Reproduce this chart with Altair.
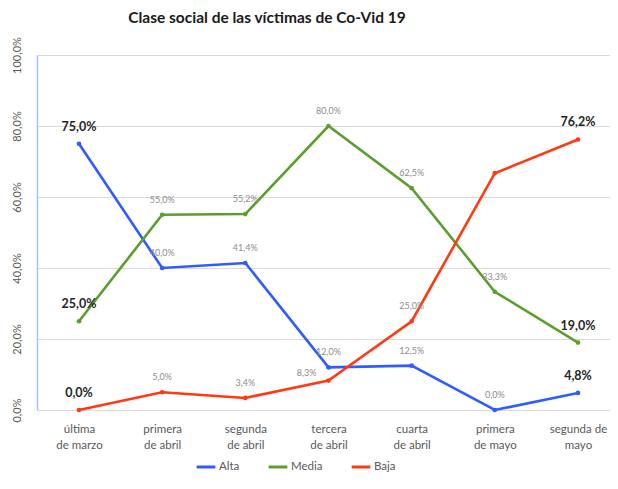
import json
import altair as alt
import pandas as pd

title_text = "Clase social de las víctimas de Co-Vid 19"
categories = ["última|de marzo", "primera|de abril", "segunda|de abril", "tercera|de abril",
              "cuarta|de abril", "primera|de mayo", "segunda de|mayo"]
series = ["Alta", "Media", "Baja"]
alta = [75.0, 40.0, 41.4, 12.0, 12.5, 0.0, 4.8]
media = [25.0, 55.0, 55.2, 80.0, 62.5, 33.3, 19.0]
baja = [0.0, 5.0, 3.4, 8.3, 25.0, 66.7, 76.2]
# which points carry a data label
alta_lab = [True, True, True, True, True, True, True]
media_lab = [True, True, True, True, True, True, True]
baja_lab = [True, True, True, True, True, False, True]
colors = ["#2F5CFF", "#5B9E2D", "#FF3A12"]
y_ticks = [0, 20, 40, 60, 80, 100]

rows = []
for s, vals, labs in [("Alta", alta, alta_lab), ("Media", media, media_lab), ("Baja", baja, baja_lab)]:
    for i, v in enumerate(vals):
        rows.append({"serie": s, "idx": i, "value": v,
                     "label": (f"{v:.1f}%".replace(".", ",") if labs[i] else ""),
                     "edge": i in (0, len(vals) - 1)})
df = pd.DataFrame(rows)

FONT = "Lato"
cat_expr = "split(" + json.dumps(categories, ensure_ascii=False) + "[datum.value], '|')"

x = alt.X("idx:Q", scale=alt.Scale(domain=[-0.505, 6.385], nice=False, zero=False),
          axis=alt.Axis(values=list(range(7)), labelExpr=cat_expr, grid=False, domain=False,
                        ticks=False, labelPadding=13, labelFontSize=11.5, labelColor="#595959",
                        labelLineHeight=16, title=None, labelFlush=False, labelOverlap=False,
                        labelFont=FONT))
y = alt.Y("value:Q", scale=alt.Scale(domain=[0, 100], nice=False),
          axis=alt.Axis(values=y_ticks,
                        labelExpr="replace(format(datum.value, '.1f'), '.', ',') + '%'",
                        labelAngle=270, labelAlign="center", labelBaseline="bottom",
                        labelPadding=15, ticks=False, domainColor="#a9bff5", domainWidth=1.5,
                        gridColor="#d9d9d9", title=None, labelColor="#595959",
                        labelFontSize=11, labelFont=FONT))
color = alt.Color("serie:N", scale=alt.Scale(domain=series, range=colors),
                  sort=series,
                  legend=alt.Legend(orient="none", legendX=158, legendY=401, direction="horizontal",
                                    title=None, symbolType="stroke", symbolStrokeWidth=3,
                                    symbolSize=350, labelFontSize=11.5, labelColor="#595959",
                                    labelFont=FONT, columnPadding=22, labelOffset=2))

base = alt.Chart(df)
lines = base.mark_line(strokeWidth=2.6).encode(x=x, y=y, color=color, order="idx:Q")
points = base.mark_circle(size=22, opacity=1).encode(x=x, y=y, color=color)

small = base.transform_filter("!datum.edge && !(datum.serie == 'Baja' && datum.idx == 3)").mark_text(
    dy=-15, fontSize=9, color="#8c8c8c", font=FONT).encode(x=x, y=y, text="label:N")
special = base.transform_filter("datum.serie == 'Baja' && datum.idx == 3").mark_text(
    dx=-12, dy=-8, align="right", fontSize=9, color="#8c8c8c", font=FONT).encode(x=x, y=y, text="label:N")
bold = base.transform_filter("datum.edge").mark_text(
    dy=-17, fontSize=12.5, fontWeight="bold", color="#262626", font=FONT).encode(x=x, y=y, text="label:N")

title = alt.Chart(pd.DataFrame({"t": [title_text]})).mark_text(
    fontSize=15.5, font=FONT, fontWeight="bold", color="#1a1a1a", align="center",
    baseline="alphabetic").encode(x=alt.value(230), y=alt.value(-32), text="t:N")

chart = alt.layer(lines, points, small, special, bold, title).properties(
    width=573, height=355,
    autosize=alt.AutoSizeParams(type="none"),
    padding={"left": 29, "top": 47, "right": 0, "bottom": 70},
).configure_view(stroke=None)

chart.save("out.html", embed_options={"renderer": "svg", "actions": False})
